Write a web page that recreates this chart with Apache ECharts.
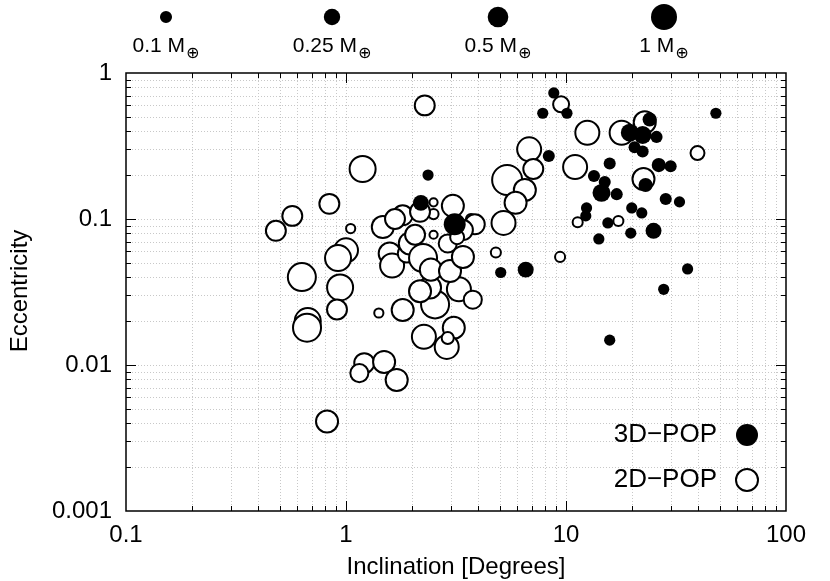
<!DOCTYPE html>
<html><head><meta charset="utf-8">
<script src="https://cdn.jsdelivr.net/npm/echarts@6/dist/echarts.min.js"></script>
<style>html,body{margin:0;padding:0;background:#fff}#c{width:830px;height:581px}</style>
</head><body><div id="c"></div>
<script>
const FONT = '"Liberation Sans", Arial, Helvetica, sans-serif';

// axis ticks
const xTickValues = [0.1, 1, 10, 100];
const xTickLabels = ['0.1', '1', '10', '100'];
const yTickValues = [0.001, 0.01, 0.1, 1];
const yTickLabels = ['0.001', '0.01', '0.1', '1'];
const xTitle = 'Inclination [Degrees]';
const yTitle = 'Eccentricity';

// mass legend
const massLegendValues = [0.1, 0.25, 0.5, 1];
const massLegendLabels = ['0.1 M', '0.25 M', '0.5 M', '1 M'];

// 2D-POP (open circles): inclination [deg], eccentricity, mass [M_earth]
const pop2dInc = [2.28, 1.19, 9.5, 12.5, 17.9, 22.8, 6.8, 7.1, 5.4, 6.5, 5.9, 5.2, 11, 39.6, 22.5, 11.3, 17.3, 9.4, 4.8,
  0.84, 0.57, 0.48, 1.05, 2.5, 2.5, 2.5, 3.06, 3.7, 3.85, 1.81, 1.47, 1.0, 0.92, 0.63, 0.94, 0.91, 0.67, 0.665, 1.41,
  1.81, 2.54, 2.41, 3.26, 3.77, 3.09, 2.26, 2.87, 2.9, 1.21, 1.15, 1.49, 1.70, 0.82, 1.58, 1.62, 1.89, 1.95, 2.24,
  2.43, 2.97, 3.4, 3.4, 2.9, 1.67, 2.06, 3.2, 2.17, 2.17];
const pop2dEcc = [0.60, 0.22, 0.61, 0.39, 0.39, 0.46, 0.30, 0.22, 0.185, 0.158, 0.129, 0.094, 0.227, 0.283, 0.188, 0.095, 0.097, 0.055, 0.059,
  0.127, 0.105, 0.083, 0.086, 0.13, 0.108, 0.078, 0.123, 0.10, 0.092, 0.106, 0.088, 0.061, 0.054, 0.040, 0.034, 0.024, 0.020, 0.018, 0.0227,
  0.0238, 0.026, 0.034, 0.033, 0.028, 0.018, 0.0156, 0.0133, 0.0153, 0.0103, 0.0088, 0.0105, 0.0079, 0.0041, 0.058, 0.048, 0.058, 0.068, 0.054,
  0.045, 0.044, 0.055, 0.084, 0.068, 0.10, 0.078, 0.075, 0.032, 0.112];
const pop2dMass = [0.6, 1.25, 0.33, 1.0, 1.0, 0.79, 1.0, 0.6, 1.86, 0.79, 0.79, 1.0, 1.0, 0.23, 0.79, 0.1, 0.1, 0.1, 0.1,
  0.6, 0.6, 0.6, 0.08, 0.06, 0.1, 0.06, 0.79, 0.1, 0.6, 0.6, 0.79, 1.0, 1.25, 1.54, 1.25, 0.6, 1.25, 1.54, 0.08,
  0.79, 1.54, 0.79, 1.0, 0.46, 0.79, 1.0, 1.0, 0.16, 0.6, 0.46, 0.79, 0.79, 0.79, 0.79, 1.0, 0.46, 0.79, 1.54,
  0.79, 0.79, 0.79, 0.6, 0.46, 0.6, 0.6, 0.23, 0.79, 0.6];

// 3D-POP (filled circles)
const pop3dInc = [2.36, 2.19, 3.12, 5.05, 6.56, 8.8, 7.84, 10.1, 48, 24, 19.5, 22.3, 25.8, 20.5, 22.3, 8.35, 15.8, 26.4, 29.9,
  13.4, 23, 15, 14.5, 17, 28.4, 32.8, 12.4, 12.3, 19.9, 22.1, 15.5, 25, 19.7, 14.1, 35.7, 27.8, 15.8];
const pop3dEcc = [0.20, 0.129, 0.092, 0.043, 0.045, 0.73, 0.53, 0.53, 0.53, 0.48, 0.39, 0.376, 0.365, 0.31, 0.29, 0.27, 0.24, 0.234, 0.23,
  0.197, 0.171, 0.179, 0.151, 0.148, 0.137, 0.131, 0.119, 0.105, 0.119, 0.11, 0.094, 0.083, 0.080, 0.073, 0.0455, 0.033, 0.0148];
const pop3dMass = [0.08, 0.23, 0.6, 0.08, 0.23, 0.08, 0.08, 0.08, 0.08, 0.16, 0.33, 0.33, 0.1, 0.1, 0.1, 0.1, 0.1, 0.16, 0.1,
  0.1, 0.16, 0.1, 0.33, 0.1, 0.1, 0.08, 0.08, 0.08, 0.08, 0.08, 0.08, 0.23, 0.08, 0.08, 0.08, 0.08, 0.08];

const X_MIN = 0.1, X_MAX = 100, Y_MIN = 0.001, Y_MAX = 1;
function sizeFn(m) { return 26 * Math.cbrt(m); }
function zip(a, b, c) { return a.map((v, i) => [v, b[i], c[i]]); }

// minor/major tick values for grid lines
const tickData = [];
[0.1, 1, 10].forEach(d => { for (let k = 1; k <= 9; k++) { if (!(d === 0.1 && k === 1)) tickData.push([k * d, 1, 0]); } });
[0.001, 0.01, 0.1].forEach(d => { for (let k = 1; k <= 9; k++) { if (!(d === 0.001 && k === 1)) tickData.push([1, k * d, 1]); } });

function labelFor(values, labels) {
  return function (v) {
    const lv = Math.log10(v);
    for (let i = 0; i < values.length; i++) if (Math.abs(Math.log10(values[i]) - lv) < 1e-6) return labels[i];
    return '';
  };
}

const chart = echarts.init(document.getElementById('c'), null, { renderer: 'canvas' });
const legendX = [166, 332, 498, 664];
const graphics = [];
massLegendValues.forEach((m, i) => {
  graphics.push({ type: 'circle', shape: { cx: legendX[i], cy: 17, r: sizeFn(m) / 2 }, style: { fill: '#000' }, silent: true });
  graphics.push({ type: 'text', x: legendX[i], y: 36, silent: true,
    style: { text: '{a|' + massLegendLabels[i] + '}{b|⊕}', align: 'center', verticalAlign: 'top',
      rich: { a: { fontSize: 21, fontFamily: FONT, fill: '#000', lineHeight: 23, verticalAlign: 'top' },
              b: { fontSize: 16, fontFamily: 'DejaVu Sans', fill: '#000', lineHeight: 16, verticalAlign: 'top', padding: [10, 0, 0, 1] } } } });
});
graphics.push({ type: 'text', x: 456, y: 567, silent: true,
  style: { text: xTitle, fontSize: 24, fontFamily: FONT, fill: '#000', align: 'center', verticalAlign: 'middle' } });
graphics.push({ type: 'text', x: 20, y: 291, rotation: Math.PI / 2, silent: true,
  style: { text: yTitle, fontSize: 24, fontFamily: FONT, fill: '#000', align: 'center', verticalAlign: 'middle' } });

function crisp(v) { return Math.round(v) + 0.5; }

chart.setOption({
  animation: false,
  backgroundColor: '#fff',
  grid: { left: 126, right: 44, top: 73, bottom: 70, show: true, borderColor: '#000', borderWidth: 1.5, backgroundColor: 'transparent' },
  xAxis: { type: 'log', logBase: 10, min: X_MIN, max: X_MAX,
    axisLine: { show: false }, axisTick: { show: false }, splitLine: { show: false }, minorTick: { show: false }, minorSplitLine: { show: false },
    axisLabel: { formatter: labelFor(xTickValues, xTickLabels), fontSize: 24, fontFamily: FONT, color: '#000', margin: 12 } },
  yAxis: { type: 'log', logBase: 10, min: Y_MIN, max: Y_MAX,
    axisLine: { show: false }, axisTick: { show: false }, splitLine: { show: false }, minorTick: { show: false }, minorSplitLine: { show: false },
    axisLabel: { formatter: labelFor(yTickValues, yTickLabels), fontSize: 24, fontFamily: FONT, color: '#000', margin: 14 } },
  legend: {
    data: [{ name: '3D−POP' }, { name: '2D−POP' }],
    orient: 'vertical', right: 66, top: 417, align: 'right', itemWidth: 22, itemHeight: 22, itemGap: 19, icon: 'circle',
    selectedMode: false,
    formatter: n => '{a|' + n + '}',
    textStyle: { fontSize: 26, fontFamily: FONT, color: '#000',
      rich: { a: { fontSize: 26, fontFamily: FONT, color: '#000', padding: [0, 14, 0, 0] } } }
  },
  graphic: graphics,
  series: [
    { type: 'custom', name: 'grid', z: 1, silent: true, data: tickData, encode: { x: 0, y: 1 },
      renderItem: function (params, api) {
        const kind = api.value(2);
        const v = kind === 0 ? api.value(0) : api.value(1);
        const lv = Math.log10(v);
        const major = Math.abs(lv - Math.round(lv)) < 1e-6;
        const tl = major ? 10 : 5;
        const gs = { stroke: '#c8c8c8', lineWidth: 1, lineDash: [1, 2] };
        const ts = { stroke: '#000', lineWidth: 1 };
        if (kind === 0) {
          const a = api.coord([v, Y_MIN]), b = api.coord([v, Y_MAX]);
          const x = crisp(a[0]);
          return { type: 'group', children: [
            { type: 'line', shape: { x1: x, y1: a[1], x2: x, y2: b[1] }, style: gs },
            { type: 'line', shape: { x1: x, y1: a[1], x2: x, y2: a[1] - tl }, style: ts },
            { type: 'line', shape: { x1: x, y1: b[1], x2: x, y2: b[1] + tl }, style: ts } ] };
        } else {
          const a = api.coord([X_MIN, v]), b = api.coord([X_MAX, v]);
          const y = crisp(a[1]);
          return { type: 'group', children: [
            { type: 'line', shape: { x1: a[0], y1: y, x2: b[0], y2: y }, style: gs },
            { type: 'line', shape: { x1: a[0], y1: y, x2: a[0] + tl, y2: y }, style: ts },
            { type: 'line', shape: { x1: b[0], y1: y, x2: b[0] - tl, y2: y }, style: ts } ] };
        }
      } },
    { type: 'scatter', name: '2D−POP', z: 3, silent: true, data: zip(pop2dInc, pop2dEcc, pop2dMass),
      symbol: 'circle', symbolSize: v => sizeFn(v[2]) - 2,
      itemStyle: { color: '#fff', borderColor: '#000', borderWidth: 2, opacity: 1 } },
    { type: 'scatter', name: '3D−POP', z: 4, silent: true, data: zip(pop3dInc, pop3dEcc, pop3dMass),
      symbol: 'circle', symbolSize: v => sizeFn(v[2]),
      itemStyle: { color: '#000', borderWidth: 0, opacity: 1 } }
  ]
});
</script></body></html>
